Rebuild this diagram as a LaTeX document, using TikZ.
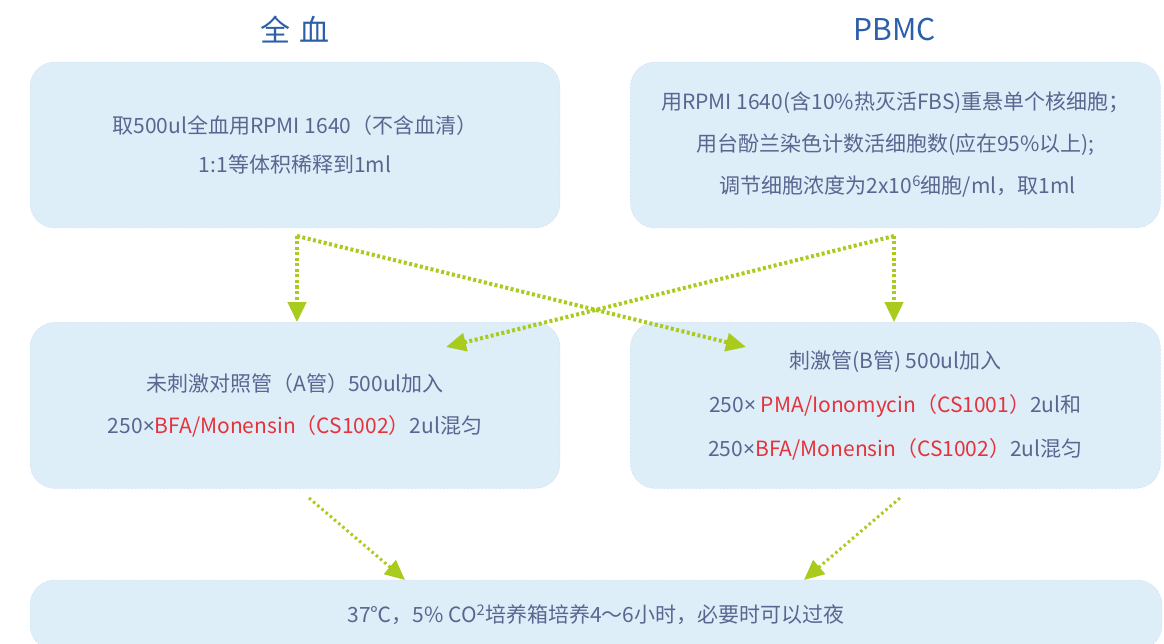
\documentclass[tikz,border=0pt]{standalone}
\usepackage{fontspec}
\setmainfont{Noto Sans CJK SC}
\newfontfamily\crossfont{Noto Sans}
\usetikzlibrary{positioning,arrows.meta}
\definecolor{boxfill}{HTML}{DDEEF9}
\definecolor{boxline}{HTML}{B3CBE3}
\definecolor{txtgray}{HTML}{5A6690}
\definecolor{titleblue}{HTML}{2D5FA8}
\definecolor{hilite}{HTML}{E5323B}
\definecolor{arrowgreen}{HTML}{A8CB1E}
\tikzset{
  flow/.style={draw=arrowgreen, line width=4pt, dash pattern=on 3pt off 2.5pt, -{Triangle[length=20pt,width=18pt,fill=arrowgreen]}},
  thinflow/.style={flow, line width=3pt, dash pattern=on 2.5pt off 3pt},
}
\newcommand{\hl}[1]{\textcolor{hilite}{#1}}
\newcommand{\tms}{{\crossfont ×}}

\begin{document}
\begin{tikzpicture}[x=1pt,y=-1pt,
            box/.style={rectangle,rounded corners=25pt,draw=boxline,densely dotted,fill=boxfill,minimum width=530pt,minimum height=166pt,text=txtgray,font=\fontsize{21}{25}\selectfont,align=center,inner sep=0pt},
            title/.style={text=titleblue,font=\fontsize{30}{36}\selectfont}]
            \clip (0,0) rectangle (1164,644);

            % top row
            \node[box] (blood) at (295,145) {取500ul全血用RPMI 1640（不含血清）\\[14pt] 1:1等体积稀释到1ml};
            \node[box, right=70pt of blood] (pbmc) {用RPMI 1640(含10\%热灭活FBS)重悬单个核细胞；\\[17pt]
                用台酚兰染色计数活细胞数(应在95\%以上);\\[17pt]
                \ 调节细胞浓度为2x10\textsuperscript{6}细胞/ml，取1ml};
            \node[title] (bloodname) at (295,30) {全\hspace{0.3em}血};
            \node[title] (pbmcname) at (895,30) {PBMC};

            % tubes
            \node[box, below=94pt of blood] (tubeA) {未刺激对照管（A管）500ul加入\\[17pt]
                250\tms\hl{BFA/Monensin（CS1002）}2ul混匀};
            \node[box, right=70pt of tubeA] (tubeB) {刺激管(B管) 500ul加入\\[19pt]
                250\tms\ \hl{PMA/Ionomycin（CS1001）}2ul和\\[19pt]
                250\tms\hl{BFA/Monensin（CS1002）}2ul混匀};

            \node[box, minimum width=1132pt, minimum height=70pt] (culture) at (596,615) {37℃，5\% CO\textsuperscript{2}培养箱培养4～6小时，必要时可以过夜};

            \coordinate (bsrc) at (297,236);
            \coordinate (psrc) at (894,236);
            \coordinate (asrc) at (309,498);
            \coordinate (bbsrc) at (900,498);
            \coordinate (adst) at (446,347);
            \coordinate (bdst) at (746,347);

            \draw [flow] (bsrc) -- (bsrc |- tubeA.north);
            \draw [flow] (psrc) -- (psrc |- tubeB.north);
            \draw [flow] (bsrc) -- (bdst);
            \draw [flow] (psrc) -- (adst);
            \draw [thinflow] (asrc) -- (405,580);
            \draw [thinflow] (bbsrc) -- (804,580);

         \end{tikzpicture}
\end{document}
